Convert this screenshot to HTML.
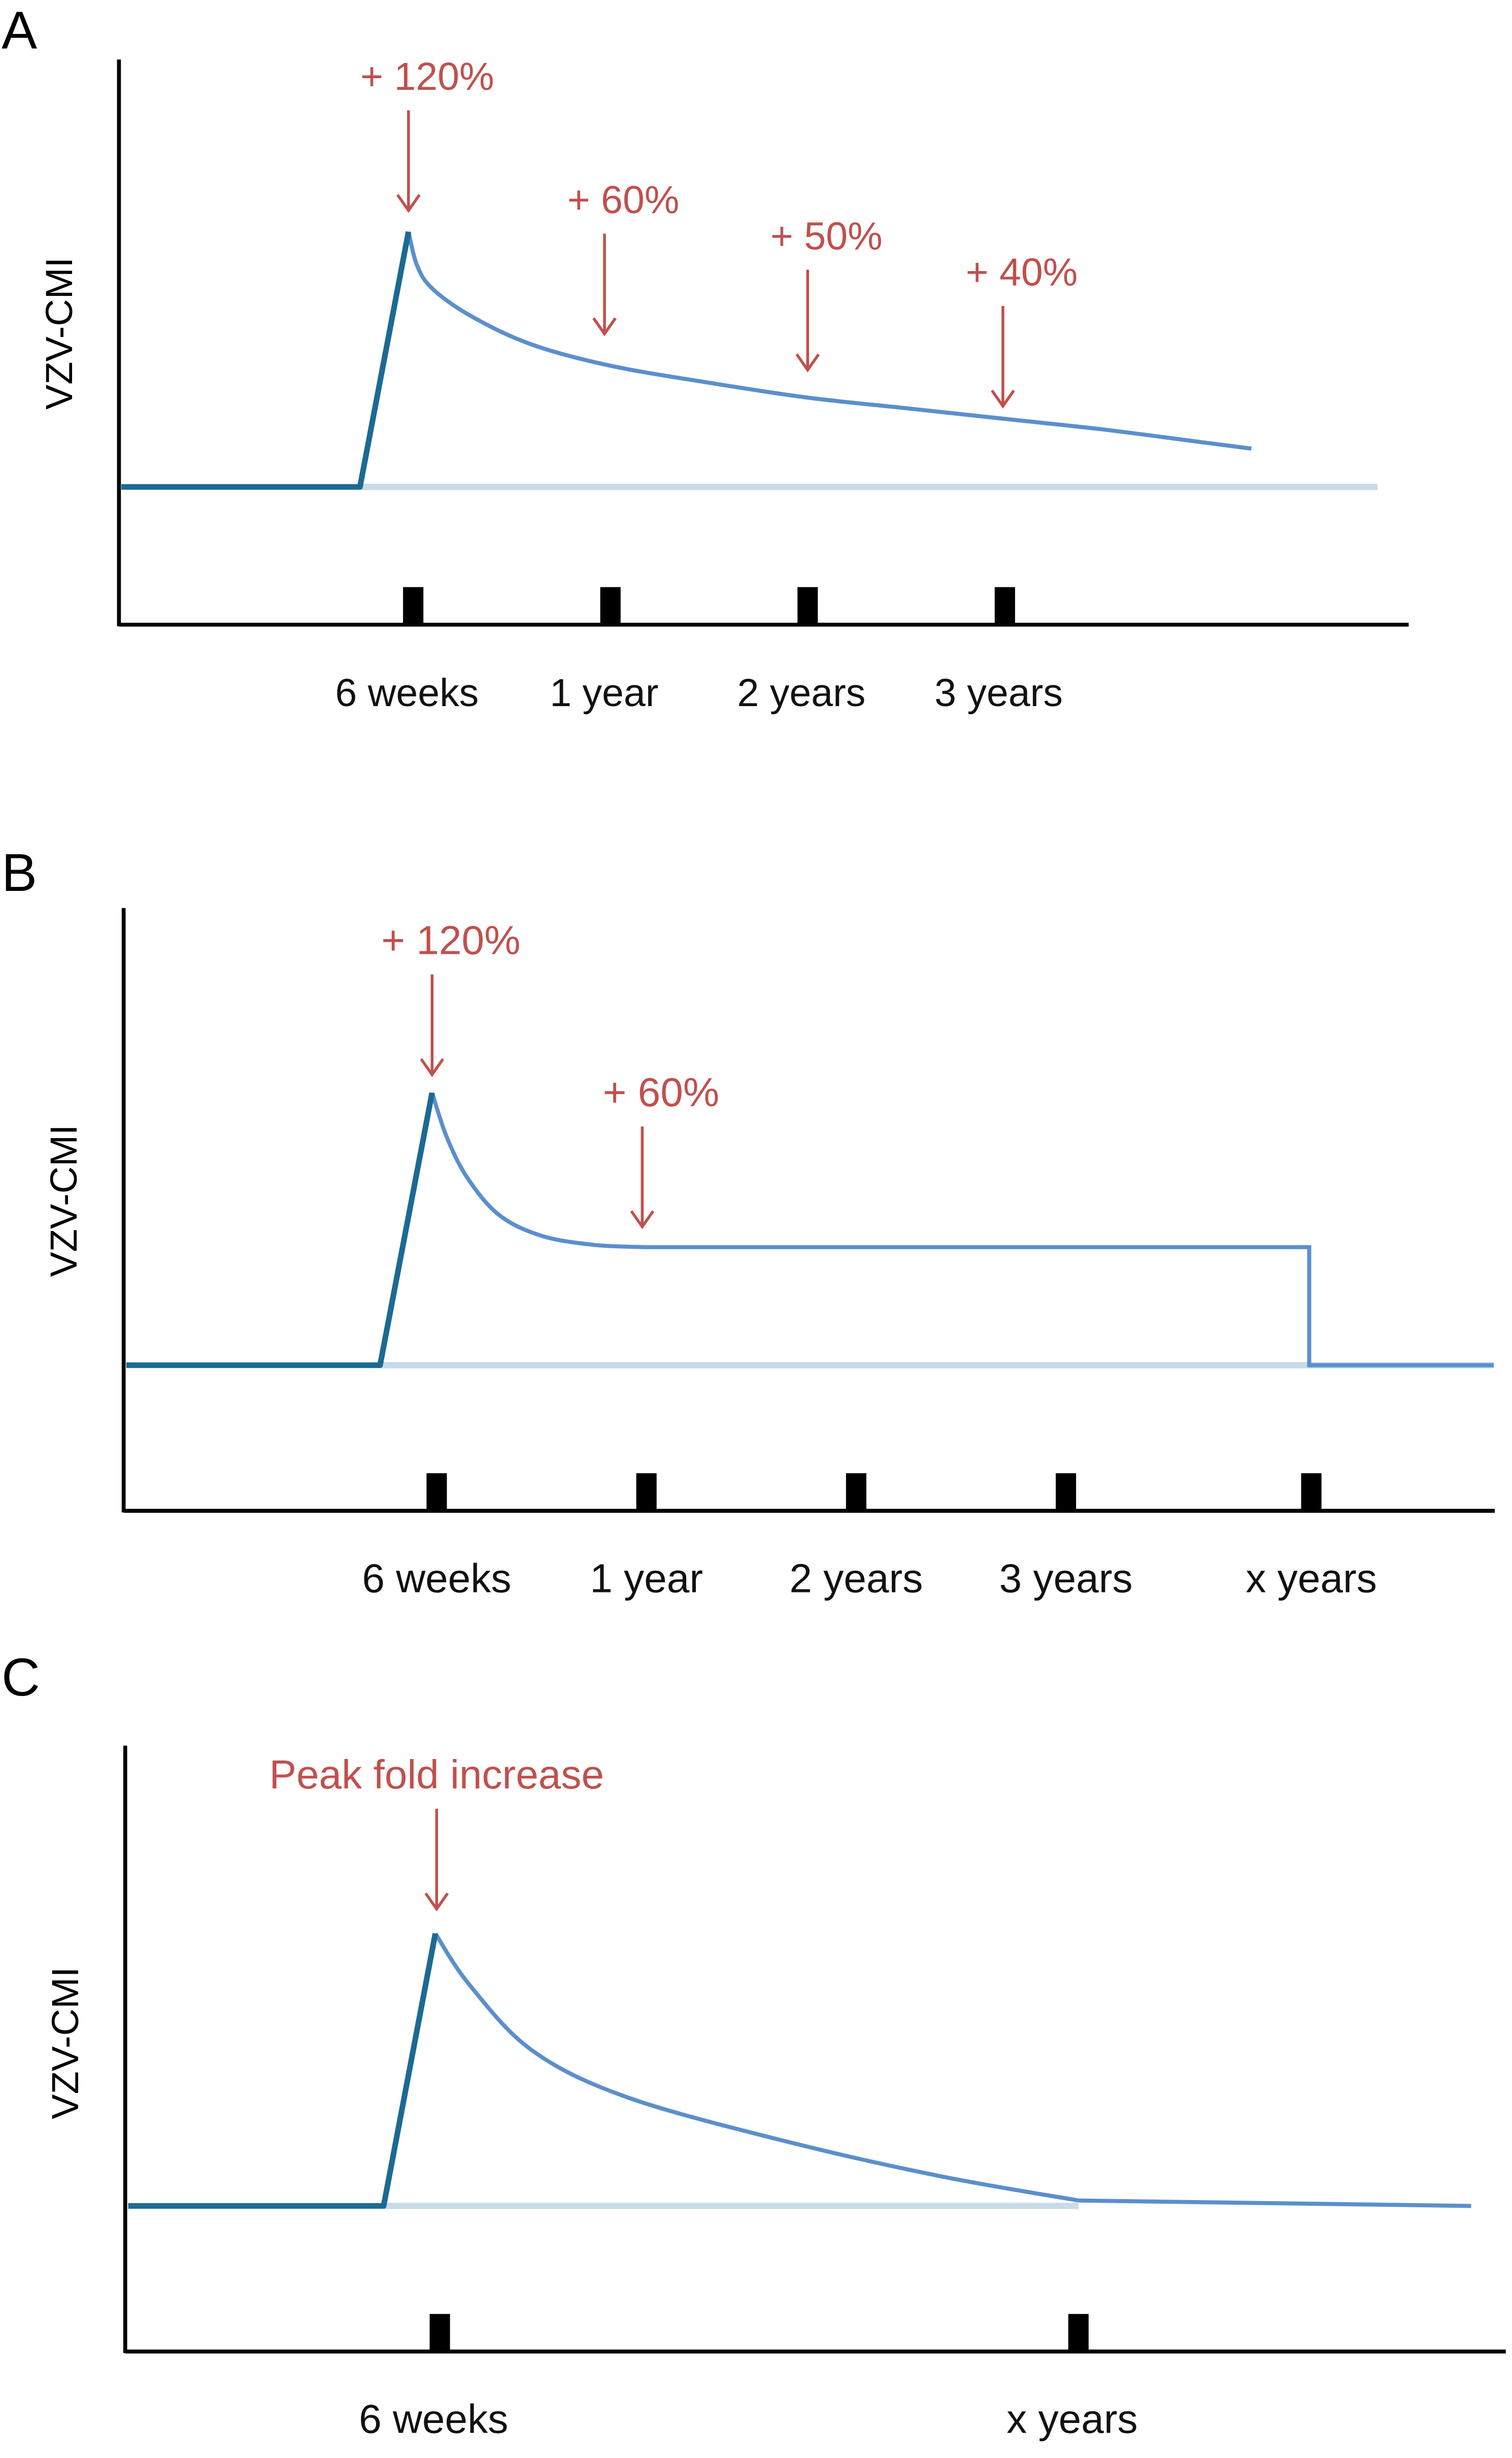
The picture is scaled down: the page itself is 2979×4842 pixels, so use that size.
<!DOCTYPE html>
<html><head><meta charset="utf-8"><style>
html,body{margin:0;padding:0;background:#fff;}
svg{display:block;}
text{font-family:"Liberation Sans",sans-serif;}
</style></head><body>
<svg id="fig" width="2979" height="4842" viewBox="0 0 966 1570" preserveAspectRatio="none" xmlns="http://www.w3.org/2000/svg">
</svg>
<script>
// ---------- Panel data ----------
const tickLabelsA = ['6 weeks','1 year','2 years','3 years'];
const tickUA = [1,2,3,4];
const riseA = [[-0.48,0],[0.73,0],[0.976,120]];
const curveA = [[0.976,120],[1.02,104],[1.1,93],[1.3,80],[1.6,67],[2,57],[2.5,49],[3,42],[3.5,37],[4,32],[4.5,27],[5,21],[5.25,18]];
const tailA = [];
const baseEndA = 5.89;
const annLabelsA = ['+ 120%','+ 60%','+ 50%','+ 40%'];
const annUA = [0.976,1.97,3.0,3.99];
const annVA = [130,72,55,38];

const tickLabelsB = ['6 weeks','1 year','2 years','3 years','x years'];
const tickUB = [1,2,3,4,5.17];
const riseB = [[-0.48,0],[0.73,0],[0.978,120]];
const curveB = [[0.978,120],[1.05,100],[1.15,82],[1.3,66],[1.5,57],[1.75,53],[2,52]];
const tailB = [[2,52],[5.16,52],[5.16,0],[6.04,0]];
const baseEndB = 6.04;
const annLabelsB = ['+ 120%','+ 60%'];
const annUB = [0.978,1.98];
const annVB = [128,61];

const tickLabelsC = ['6 weeks','x years'];
const tickUC = [0,1];
const riseC = [[-0.488,0],[-0.088,0],[-0.007,100]];
const curveC = [[-0.007,100],[0.047,81],[0.145,57],[0.292,40],[0.537,24],[0.782,11],[1,2]];
const tailC = [[1,2],[1.615,0]];
const baseEndC = 1.0;
const annLabelsC = ['Peak fold increase'];
const annUC = [-0.005];
const annVC = [109];

const NS='http://www.w3.org/2000/svg';
const svg=document.getElementById('fig');
function mk(tag,attrs,parent){const e=document.createElementNS(NS,tag);for(const k in attrs)e.setAttribute(k,attrs[k]);(parent||svg).appendChild(e);return e;}
function smooth(pts){
  let d='M'+pts[0][0]+','+pts[0][1];
  for(let i=0;i<pts.length-1;i++){
    const p0=pts[Math.max(0,i-1)],p1=pts[i],p2=pts[i+1],p3=pts[Math.min(pts.length-1,i+2)];
    const c1=[p1[0]+(p2[0]-p0[0])/6,p1[1]+(p2[1]-p0[1])/6];
    const c2=[p2[0]-(p3[0]-p1[0])/6,p2[1]-(p3[1]-p1[1])/6];
    d+=` C${c1[0]},${c1[1]} ${c2[0]},${c2[1]} ${p2[0]},${p2[1]}`;
  }
  return d;
}

function panel(cfg){
  const g=mk('g',{});
  
  
  const X=u=>cfg.x0+u*cfg.xs, Y=v=>cfg.yb-v*cfg.ys;
  const lbl=mk('text',{x:1,y:cfg.letterY,'font-size':34,fill:'#000'},g);lbl.textContent=cfg.id;
  
  
  const yt=mk('text',{x:0,y:0,'font-size':24,fill:'#000','text-anchor':'middle',transform:`translate(${cfg.axX-30},${cfg.ylabY}) rotate(-90)`},g);yt.textContent='VZV-CMI';
  
  
  const bl=mk('line',{x1:X(cfg.rise[1][0]),x2:X(cfg.baseEnd),y1:Y(0),y2:Y(0),stroke:'#c9dbe7','stroke-width':4},g);
  
  
  const cp=mk('path',{d:smooth(cfg.curve.map(p=>[X(p[0]),Y(p[1])])),fill:'none',stroke:'#5b8fcc','stroke-width':2.6},g);
  
  
  if(cfg.tail.length){
    const tp=mk('polyline',{points:cfg.tail.map(p=>X(p[0])+','+Y(p[1])).join(' '),fill:'none',stroke:'#5b8fcc','stroke-width':2.6},g);
    
    
  }
  const rp=mk('polyline',{points:cfg.rise.map(p=>X(p[0])+','+Y(p[1])).join(' '),fill:'none',stroke:'#1c6a94','stroke-width':3.6,'stroke-linejoin':'round'},g);
  
  
  const ya=mk('line',{x1:cfg.axX,x2:cfg.axX,y1:cfg.axTop,y2:cfg.axY+1,stroke:'#000','stroke-width':2.5},g);
  
  
  const xa=mk('line',{x1:cfg.axX,x2:cfg.axRight,y1:cfg.axY,y2:cfg.axY,stroke:'#000','stroke-width':2.5},g);
  
  
  cfg.ticks.forEach((u,i)=>{
    const r=mk('rect',{x:X(u)-6.5,y:cfg.axY-24,width:13,height:24,fill:'#000'},g);
    
    
    const t=mk('text',{x:X(u)+cfg.labDx,y:cfg.axY+52,'font-size':cfg.fs,'text-anchor':'middle',fill:'#111'},g);t.textContent=cfg.tickLabels[i];
    
    
  });
  cfg.annLabels.forEach((s,i)=>{
    const ax=X(cfg.annU[i]), ay=Y(cfg.annV[i]);
    const a=mk('line',{x1:ax,x2:ax,y1:ay-64,y2:ay,stroke:'#c0504d','stroke-width':1.8},g);
    
    
    const h=mk('polyline',{points:`${ax-7},${ay-10} ${ax},${ay} ${ax+7},${ay-10}`,fill:'none',stroke:'#c0504d','stroke-width':1.8},g);
    
    
    const t=mk('text',{x:ax+(s.length>8?0:12),y:ay-77,'font-size':cfg.fs,'text-anchor':'middle',fill:'#c0504d'},g);t.textContent=s;
    
    
  });
}
panel({id:'A',x0:138,xs:126,yb:311,ys:1.358,axX:76,axTop:38,axY:399,axRight:900,letterY:31,ylabY:213,fs:25,labDx:-4,
  ticks:tickUA,tickLabels:tickLabelsA,rise:riseA,curve:curveA,tail:tailA,baseEnd:baseEndA,annLabels:annLabelsA,annU:annUA,annV:annVA});
panel({id:'B',x0:145,xs:134,yb:872,ys:1.45,axX:79,axTop:580,axY:965,axRight:955,letterY:569,ylabY:767,fs:26,labDx:0,
  ticks:tickUB,tickLabels:tickLabelsB,rise:riseB,curve:curveB,tail:tailB,baseEnd:baseEndB,annLabels:annLabelsB,annU:annUB,annV:annVB});
panel({id:'C',x0:281,xs:408,yb:1409,ys:1.74,axX:80,axTop:1115,axY:1502,axRight:962,letterY:1083,ylabY:1305,fs:26,labDx:-4,
  ticks:tickUC,tickLabels:tickLabelsC,rise:riseC,curve:curveC,tail:tailC,baseEnd:baseEndC,annLabels:annLabelsC,annU:annUC,annV:annVC});
</script>
</body></html>
